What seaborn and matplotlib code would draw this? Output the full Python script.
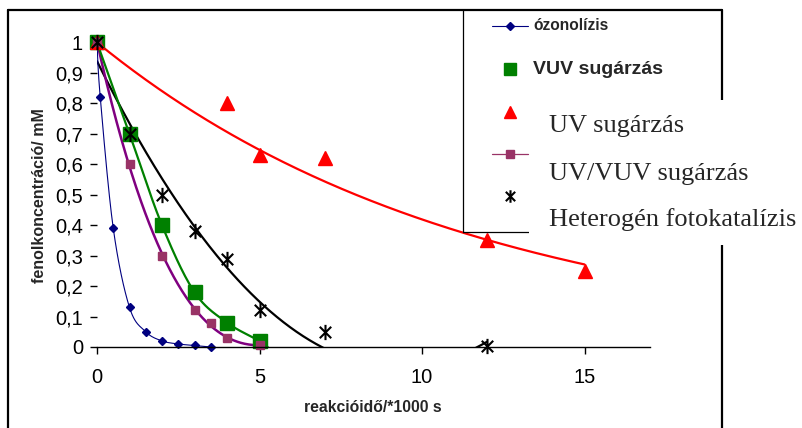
import numpy as np
import pandas as pd
import matplotlib
matplotlib.use("Agg")
import matplotlib.pyplot as plt
import seaborn as sns
from matplotlib.path import Path
from matplotlib.patches import Rectangle
from matplotlib.lines import Line2D

# values: reakcióidő (*1000 s) and fenol (mM)
ozon_x = [0, 0.1, 0.5, 1, 1.5, 2, 2.5, 3, 3.5]
ozon_y = [1, 0.82, 0.39, 0.13, 0.05, 0.02, 0.01, 0.005, 0.0]

vuv_x = [0, 1, 2, 3, 4, 5]
vuv_y = [1, 0.70, 0.40, 0.18, 0.08, 0.02]
# extra smoothed line drawn through the VUV points, it runs down to the axis
vuv_line_x = [0, 1, 2, 3, 4, 5, 5.25]
vuv_line_y = [1, 0.70, 0.40, 0.18, 0.08, 0.02, 0.0]

uv_x = [0, 4, 5, 7, 12, 15]
uv_y = [1, 0.80, 0.63, 0.62, 0.35, 0.25]

uvvuv_x = [0, 1, 2, 3, 3.5, 4, 5]
uvvuv_y = [1, 0.60, 0.30, 0.12, 0.08, 0.03, 0.005]

het_x = [0, 1, 2, 3, 4, 5, 7, 12]
het_y = [1, 0.70, 0.50, 0.38, 0.29, 0.12, 0.05, 0.003]

x_ticks = [0, 5, 10, 15]
y_ticks = [0, 0.1, 0.2, 0.3, 0.4, 0.5, 0.6, 0.7, 0.8, 0.9, 1.0]
y_tick_labels = ['0', '0,1', '0,2', '0,3', '0,4', '0,5', '0,6', '0,7', '0,8', '0,9', '1']

legend_labels = ['ózonolízis', 'VUV sugárzás', 'UV sugárzás',
                 'UV/VUV sugárzás', 'Heterogén fotokatalízis']

W, H = 802, 428


def smooth(x, y, n=24):
    # Catmull-Rom through the points, close to Excel's "smoothed line"
    p = np.column_stack([x, y]).astype(float)
    p = np.vstack([p[0], p, p[-1]])
    t = np.linspace(0, 1, n, endpoint=False)[:, None]
    out = []
    for i in range(1, len(p) - 2):
        p0, p1, p2, p3 = p[i - 1], p[i], p[i + 1], p[i + 2]
        seg = 0.5 * (2 * p1 + (-p0 + p2) * t
                     + (2 * p0 - 5 * p1 + 4 * p2 - p3) * t ** 2
                     + (-p0 + 3 * p1 - 3 * p2 + p3) * t ** 3)
        out.append(seg)
    out.append(p[-2][None, :])
    s = np.vstack(out)
    return pd.DataFrame({'x': s[:, 0], 'y': s[:, 1]})


def fx(px):
    return px / W


def fy(py):
    return 1 - py / H


# Asterisk marker like Excel's star: an X with a vertical bar
star = Path([(0, -1), (0, 1), (-0.75, -0.75), (0.75, 0.75), (-0.75, 0.75), (0.75, -0.75)],
            [Path.MOVETO, Path.LINETO, Path.MOVETO, Path.LINETO, Path.MOVETO, Path.LINETO])

sns.set_style("white")
plt.rcParams['font.family'] = ['Liberation Sans', 'DejaVu Sans']

fig = plt.figure(figsize=(W / 100, H / 100), dpi=100)
ax = fig.add_axes([fx(97), fy(347), fx(649.5 - 97), (347 - 12) / H])

# trendlines, fitted like Excel does it
xs = np.array(uv_x, dtype=float)
k = np.sum(xs * np.log(uv_y)) / np.sum(xs ** 2)  # exponential, intercept fixed at 1
uv_fit_x = np.linspace(0, max(uv_x), 200)
uv_fit = pd.DataFrame({'x': uv_fit_x, 'y': np.exp(k * uv_fit_x)})

het_c = np.polyfit(het_x, het_y, 2)
het_fit_x = np.linspace(0, max(het_x), 300)
het_fit = pd.DataFrame({'x': het_fit_x, 'y': np.polyval(het_c, het_fit_x)})

uvvuv_c = np.polyfit(uvvuv_x, uvvuv_y, 3)
uvvuv_fit_x = np.linspace(0, max(uvvuv_x), 200)
uvvuv_fit = pd.DataFrame({'x': uvvuv_fit_x, 'y': np.polyval(uvvuv_c, uvvuv_fit_x)})

sns.lineplot(data=uv_fit, x='x', y='y', sort=False, color='#FF0000', lw=1.6, ax=ax)
sns.lineplot(data=het_fit, x='x', y='y', sort=False, color='black', lw=1.6, ax=ax)
sns.lineplot(data=uvvuv_fit, x='x', y='y', sort=False, color='#800080', lw=1.8, ax=ax)
sns.lineplot(data=smooth(vuv_line_x, vuv_line_y), x='x', y='y', sort=False,
             color='#008000', lw=1.6, ax=ax)
sns.lineplot(data=smooth(ozon_x, ozon_y), x='x', y='y', sort=False,
             color='#000080', lw=0.8, ax=ax)

ax.plot(ozon_x, ozon_y, ls='none', marker='D', ms=4.5, color='#000080', clip_on=False)
ax.plot(vuv_x, vuv_y, ls='none', marker='s', ms=10, color='#008000', clip_on=False)
ax.plot(uv_x, uv_y, ls='none', marker='^', ms=10, color='#FF0000', clip_on=False)
ax.plot(uvvuv_x, uvvuv_y, ls='none', marker='s', ms=5.5, color='#993366', clip_on=False)
ax.plot(het_x, het_y, ls='none', marker=star, ms=11, mew=1.5, color='black', clip_on=False)

ax.set_xlim(0, 17)
ax.set_ylim(0, 1.1)
ax.set_xticks(x_ticks)
ax.set_xticklabels([str(v) for v in x_ticks], fontsize=14.5)
ax.set_yticks(y_ticks)
ax.set_yticklabels(y_tick_labels, fontsize=14.5)
ax.tick_params(axis='both', direction='out', length=5, width=1, color='black',
               labelcolor='black')
ax.tick_params(axis='x', pad=10)
ax.tick_params(axis='y', pad=5)
ax.xaxis.set_ticks_position('bottom')
ax.yaxis.set_ticks_position('left')
for side in ['top', 'right', 'left']:
    ax.spines[side].set_visible(False)
ax.spines['bottom'].set_color('black')
ax.spines['bottom'].set_linewidth(1)
ax.set_xlabel('')
ax.set_ylabel('')
ax.patch.set_alpha(0)

fig.text(fx(373), fy(407), 'reakcióidő/*1000 s', fontsize=11.3, fontweight='bold',
         ha='center', va='center')
fig.text(fx(40), fy(196), 'fenolkoncentráció/ mM', fontsize=11.5, fontweight='bold',
         ha='center', va='center', rotation=90)

# outer frame
tf = fig.transFigure
for (x0, y0), (x1, y1) in [((8, 10), (722, 10)), ((8, 10), (8, 430)), ((722, 10), (722, 430))]:
    fig.add_artist(Line2D([fx(x0), fx(x1)], [fy(y0), fy(y1)], transform=tf,
                          color='black', lw=1.6, zorder=1))

# legend box
fig.add_artist(Line2D([fx(463), fx(463)], [fy(10), fy(232)], transform=tf,
                      color='black', lw=0.9, zorder=1))
fig.add_artist(Line2D([fx(463), fx(722)], [fy(232), fy(232)], transform=tf,
                      color='black', lw=0.9, zorder=1))

# white text box that sits over the lower legend entries
fig.add_artist(Rectangle((fx(529), fy(245)), fx(802 - 529), (245 - 100) / H,
                         transform=tf, facecolor='white', edgecolor='none', zorder=2))

# legend samples
fig.add_artist(Line2D([fx(492), fx(528)], [fy(26), fy(26)], transform=tf,
                      color='#000080', lw=0.8, zorder=3))
fig.add_artist(Line2D([fx(510)], [fy(26)], transform=tf, ls='none',
                      color='#000080', marker='D', ms=4.5, zorder=3))
fig.add_artist(Line2D([fx(510)], [fy(69)], transform=tf, ls='none',
                      color='#008000', marker='s', ms=8, zorder=3))
fig.add_artist(Line2D([fx(510)], [fy(112)], transform=tf, ls='none',
                      color='#FF0000', marker='^', ms=9, zorder=3))
fig.add_artist(Line2D([fx(492), fx(528)], [fy(154), fy(154)], transform=tf,
                      color='#993366', lw=0.9, zorder=3))
fig.add_artist(Line2D([fx(510)], [fy(154)], transform=tf, ls='none',
                      color='#993366', marker='s', ms=5.5, zorder=3))
fig.add_artist(Line2D([fx(510)], [fy(196)], transform=tf, ls='none',
                      color='black', marker=star, ms=9, mew=1.5, zorder=3))

# legend texts, the first two in bold Arial, the rest in Times
fig.text(fx(533), fy(26), legend_labels[0], fontsize=11.2, fontweight='bold',
         va='center', ha='left', zorder=4)
fig.text(fx(533), fy(69), legend_labels[1], fontsize=14, fontweight='bold',
         va='center', ha='left', zorder=4)
serif = ['Liberation Serif', 'DejaVu Serif']
fig.text(fx(549), fy(126), legend_labels[2], fontsize=19, family=serif,
         va='center', ha='left', zorder=4)
fig.text(fx(549), fy(174), legend_labels[3], fontsize=19, family=serif,
         va='center', ha='left', zorder=4)
fig.text(fx(549), fy(220), legend_labels[4], fontsize=19, family=serif,
         va='center', ha='left', zorder=4)

fig.savefig('out.png', dpi=100)
